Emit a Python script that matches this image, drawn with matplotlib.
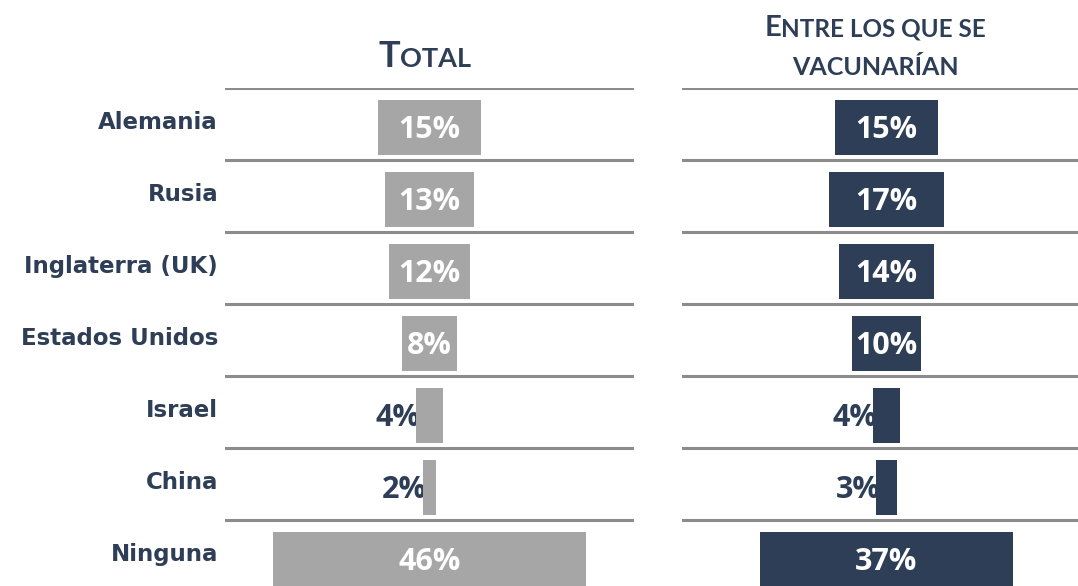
import matplotlib
matplotlib.use("Agg")
import matplotlib.pyplot as plt

# data
countries = ["Alemania", "Rusia", "Inglaterra (UK)", "Estados Unidos", "Israel", "China", "Ninguna"]
total = [15, 13, 12, 8, 4, 2, 46]
vacunarian = [15, 17, 14, 10, 4, 3, 37]

GRAY = "#A6A6A6"
NAVY = "#2E3E56"
LINE = "#8C8C8C"

W, H = 1078, 586
fig = plt.figure(figsize=(W / 100, H / 100), dpi=100)

# axes in pixel terms: top line at y=88, 72px per row
top = 1 - 88 / H
height = 7 * 72 / H
ax1 = fig.add_axes([225 / W, top - height, 409 / W, height])
ax2 = fig.add_axes([682 / W, top - height, 409 / W, height])

rows = range(len(countries))

for ax, vals, color in [(ax1, total, GRAY), (ax2, vacunarian, NAVY)]:
    ax.set_xlim(-30, 30)
    ax.set_ylim(6.5, -0.5)
    ax.axis("off")
    # separators
    for y in [-0.5, 0.5, 1.5, 2.5, 3.5, 4.5, 5.5]:
        ax.axhline(y, color=LINE, lw=2.2, zorder=1)
    for i, v in zip(rows, vals):
        if v >= 8:
            ax.barh(i + 0.045, v, left=-v / 2, height=0.77, color=color, zorder=2)
            ax.text(0, i + 0.08, f"{v}%", ha="center", va="center", color="white",
                    fontsize=22, fontweight="bold", family="Open Sans", zorder=3)
        else:
            # small bars: label sits left of the bar, partly behind it
            ax.text(-v / 2 + 0.6, i + 0.08, f"{v}%", ha="right", va="center", color=NAVY,
                    fontsize=22, fontweight="bold", family="Open Sans", zorder=1.5)
            ax.barh(i + 0.045, v, left=-v / 2, height=0.77, color=color, zorder=2)

# row labels, right aligned just left of the left panel
for i, name in zip(rows, countries):
    ax1.text(-30 - 7 / 409 * 60, i - 0.02, name, ha="right", va="center",
             color=NAVY, fontsize=16.5, fontweight="bold", family="DejaVu Sans")

# headers in small caps
renderer = fig.canvas.get_renderer()


def small_caps(cx, base_y, parts):
    # parts: list of (text, size); cx, base_y in pixels from top-left
    arts = []
    for s, size in parts:
        t = fig.text(0, 0, s, fontsize=size, fontweight="bold", family="Lato", color=NAVY,
                     ha="left", va="baseline")
        arts.append(t)
    widths = [a.get_window_extent(renderer).width for a in arts]
    x = cx - sum(widths) / 2
    for a, w in zip(arts, widths):
        a.set_position((x / W, 1 - base_y / H))
        x += w


small_caps(424.5, 67, [("T", 26), ("OTAL", 19.5)])
small_caps(875, 36, [("E", 21), ("NTRE LOS QUE SE", 17.5)])
small_caps(875, 75, [("VACUNARÍAN", 18)])

fig.savefig("out.png", dpi=100)
